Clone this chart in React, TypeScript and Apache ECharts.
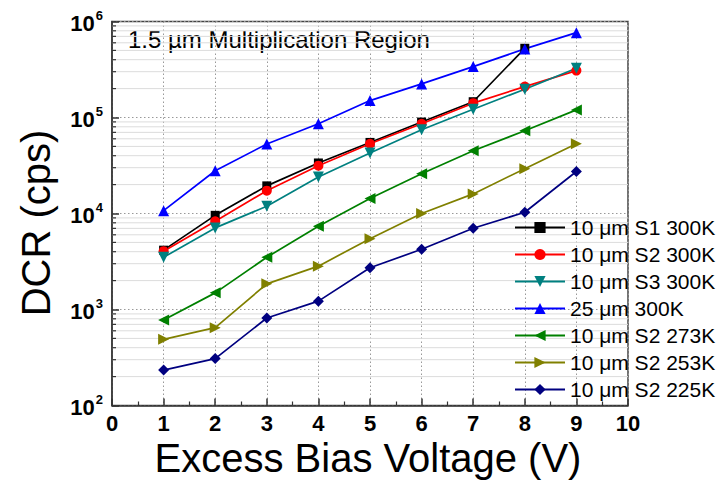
import React, { useEffect, useRef } from "react";
import * as echarts from "echarts";

const xValues = [1, 2, 3, 4, 5, 6, 7, 8, 9];
const s1_300K = [4150, 9570, 19400, 33600, 55000, 89600, 146000, 526000];
const s2_300K = [4050, 8300, 17300, 31500, 53300, 86000, 141000, 210000, 308000];
const s3_300K = [3500, 7080, 11900, 24000, 42600, 74500, 122000, 197000, 326000];
const um25_300K = [10700, 27900, 52900, 86000, 150000, 224000, 339000, 518000, 765000];
const s2_273K = [776, 1490, 3500, 7360, 14300, 26000, 45100, 72700, 120000];
const s2_253K = [489, 647, 1850, 2830, 5470, 10000, 16000, 29300, 53300];
const s2_225K = [234, 308, 815, 1222, 2720, 4240, 7010, 10300, 27400];

const seriesNames = [
  "10 μm S1 300K",
  "10 μm S2 300K",
  "10 μm S3 300K",
  "25 μm 300K",
  "10 μm S2 273K",
  "10 μm S2 253K",
  "10 μm S2 225K",
];
const decades = [100, 1000, 10000, 100000];
const minorMultipliers = [2, 3, 4, 5, 6, 7, 8, 9];

const FONT = "'Liberation Sans', Arial, sans-serif";

export default function App() {
  const ref = useRef<HTMLDivElement>(null);
  useEffect(() => {
    if (!ref.current) return;
    const chart = echarts.init(ref.current, undefined, { renderer: "svg" });
    const toPairs = (vals: number[]) => vals.map((v, i) => [xValues[i], v]);
    const minorVals: number[] = [];
    decades.forEach((d) => minorMultipliers.forEach((m) => minorVals.push(m * d)));

    const mk = (
      name: string,
      vals: number[],
      color: string,
      symbol: string,
      rotate: number,
      size: number
    ) => ({
      name,
      type: "line",
      data: toPairs(vals),
      symbol,
      symbolRotate: rotate,
      symbolSize: size,
      z: 5,
      lineStyle: { color, width: 1.7 },
      itemStyle: { color, borderWidth: 0 },
      emphasis: { disabled: true },
    });

    chart.setOption({
      animation: false,
      backgroundColor: "#fff",
      textStyle: { fontFamily: FONT },
      grid: {
        left: 112,
        right: 93,
        top: 21.5,
        bottom: 84.5,
        show: true,
        borderColor: "#444",
        borderWidth: 1.5,
      },
      xAxis: {
        type: "value",
        min: 0,
        max: 10,
        interval: 1,
        axisLine: { show: true, lineStyle: { color: "#333", width: 1.5 } },
        axisTick: { show: true, inside: true, length: 7, lineStyle: { color: "#333", width: 1.5 } },
        minorTick: { show: true, splitNumber: 2, length: 4, lineStyle: { color: "#333", width: 1.2 } },
        splitLine: { show: true, lineStyle: { color: "#999", type: [1.5, 2.5], width: 1 } },
        axisLabel: {
          fontSize: 22,
          fontWeight: "bold",
          color: "#000",
          margin: 7,
          fontFamily: FONT,
        },
      },
      yAxis: {
        type: "log",
        logBase: 10,
        min: 100,
        max: 1000000,
        axisLine: { show: true, lineStyle: { color: "#333", width: 1.5 } },
        axisTick: { show: true, inside: true, length: 7, lineStyle: { color: "#333", width: 1.5 } },
        splitLine: { show: true, lineStyle: { color: "#999", type: [1.5, 2.5], width: 1 } },
        axisLabel: {
          margin: 9,
          color: "#000",
          formatter: (v: number) => {
            const e = Math.round(Math.log10(v));
            return `{b|10}{s|${e}}`;
          },
          rich: {
            b: { fontSize: 22, fontWeight: "bold", fontFamily: FONT, color: "#000", lineHeight: 26, verticalAlign: "bottom" },
            s: { fontSize: 13, fontWeight: "bold", fontFamily: FONT, color: "#000", lineHeight: 13, verticalAlign: "top", padding: [0, 0, 0, 1] },
          },
        },
      },
      legend: {
        orient: "vertical",
        left: 514,
        top: 217,
        padding: 0,
        itemWidth: 50,
        itemHeight: 14,
        itemGap: 6,
        data: seriesNames,
        textStyle: { fontSize: 21, color: "#000", fontFamily: FONT, lineHeight: 21 },
      },
      graphic: [
        {
          type: "text",
          left: 128,
          top: 27,
          style: { text: "1.5 µm Multiplication Region", fontSize: 24, fill: "#000", fontFamily: FONT },
        },
        {
          type: "text",
          x: 368,
          y: 458,
          style: {
            text: "Excess Bias Voltage (V)",
            fontSize: 40,
            fill: "#000",
            fontFamily: FONT,
            align: "center",
            verticalAlign: "middle",
          },
        },
        {
          type: "text",
          x: 36,
          y: 223,
          rotation: Math.PI / 2,
          style: {
            text: "DCR (cps)",
            fontSize: 40,
            fill: "#000",
            fontFamily: FONT,
            align: "center",
            verticalAlign: "middle",
          },
        },
      ],
      series: [
        {
          type: "custom",
          name: "minor",
          z: 1,
          silent: true,
          data: minorVals.map((v) => [0, v]),
          encode: { x: 0, y: 1 },
          renderItem: (params: any, api: any) => {
            const v = api.value(1);
            const p0 = api.coord([0, v]);
            const p1 = api.coord([10, v]);
            return {
              type: "group",
              children: [
                {
                  type: "line",
                  shape: { x1: p0[0], y1: p0[1], x2: p1[0], y2: p1[1] },
                  style: { stroke: "#dcdcdc", lineWidth: 1 },
                },
                {
                  type: "line",
                  shape: { x1: p0[0], y1: p0[1], x2: p0[0] + 4, y2: p0[1] },
                  style: { stroke: "#333", lineWidth: 1.2 },
                },
              ],
            };
          },
        },
        mk(seriesNames[0], s1_300K, "#000000", "rect", 0, 9),
        mk(seriesNames[1], s2_300K, "#ff0000", "circle", 0, 10),
        mk(seriesNames[2], s3_300K, "#008080", "triangle", 180, 11),
        mk(seriesNames[3], um25_300K, "#0000ff", "triangle", 0, 11),
        mk(seriesNames[4], s2_273K, "#008000", "triangle", 90, 11),
        mk(seriesNames[5], s2_253K, "#808000", "triangle", -90, 11),
        mk(seriesNames[6], s2_225K, "#000080", "diamond", 0, 11),
      ],
    });
    return () => chart.dispose();
  }, []);
  return (
    <div
      ref={ref}
      style={{ position: "absolute", left: 0, top: 0, width: 721, height: 490 }}
    />
  );
}
